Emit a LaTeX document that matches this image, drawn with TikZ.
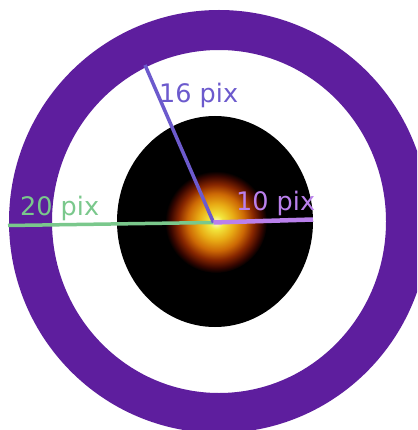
\documentclass[tikz,border=0pt]{standalone}
\usepackage{fontspec}
\setmainfont{DejaVu Sans}
\usepackage{tikz}

\definecolor{ringpurple}{RGB}{94,30,158}
\definecolor{slatepurple}{RGB}{108,90,205}
\definecolor{lightpurple}{RGB}{186,128,236}
\definecolor{softgreen}{RGB}{122,200,140}
\definecolor{glowwhite}{RGB}{255,255,215}
\definecolor{glowyellow}{RGB}{242,230,60}
\definecolor{glowgold}{RGB}{232,170,20}
\definecolor{gloworange}{RGB}{205,105,5}
\definecolor{glowbrown}{RGB}{135,38,0}
\definecolor{glowdark}{RGB}{55,6,0}

\pgfdeclareradialshading{glowshade}{\pgfpoint{0bp}{0bp}}{%
  color(0bp)=(glowwhite); color(3.5bp)=(glowyellow); color(9bp)=(glowgold);
  color(14bp)=(gloworange); color(18.5bp)=(glowbrown); color(22.5bp)=(glowdark);
  color(25bp)=(black); color(50bp)=(black)}

\tikzset{
  pixlabel/.style={anchor=base west,inner sep=0pt,font=\fontsize{25.5}{30}\selectfont},
  radiusline/.style={line width=3.5pt,line cap=butt}
}

\begin{document}
\begin{tikzpicture}[x=1pt,y=-1pt]
\fill[white] (0,0) rectangle (417,430);
\useasboundingbox (0,0) rectangle (417,430);
\clip (0,0) rectangle (417,430);

% Outer ring
\fill[ringpurple,even odd rule] (219,221.5) ellipse [x radius=210pt,y radius=211.5pt]
  (219,221.5) ellipse [x radius=167pt,y radius=171.5pt];

% Dark disc
\fill[black] (215,221.5) ellipse [x radius=98pt,y radius=105.5pt];

% Glowing source
\shade[shading=glowshade] (216,222) circle (51pt);

% Radius end points
\coordinate (ctr) at (213.5,222.5);
\coordinate (lft) at (8,225.5);
\coordinate (top) at (145,65);
\coordinate (rgt) at (313,219.5);

% Radius lines
\draw[radiusline,softgreen] (ctr) -- (lft);
\draw[radiusline,slatepurple] (ctr) -- (top);
\draw[radiusline,lightpurple,line width=4.5pt] (ctr) -- (rgt);

% Labels
\node[pixlabel,softgreen] (lbl20) at (20,215.5) {20 pix};
\node[pixlabel,slatepurple] (lbl16) at (159,102.5) {16 pix};
\node[pixlabel,lightpurple] (lbl10) at (236,210.7) {10 pix};
\end{tikzpicture}
\end{document}
